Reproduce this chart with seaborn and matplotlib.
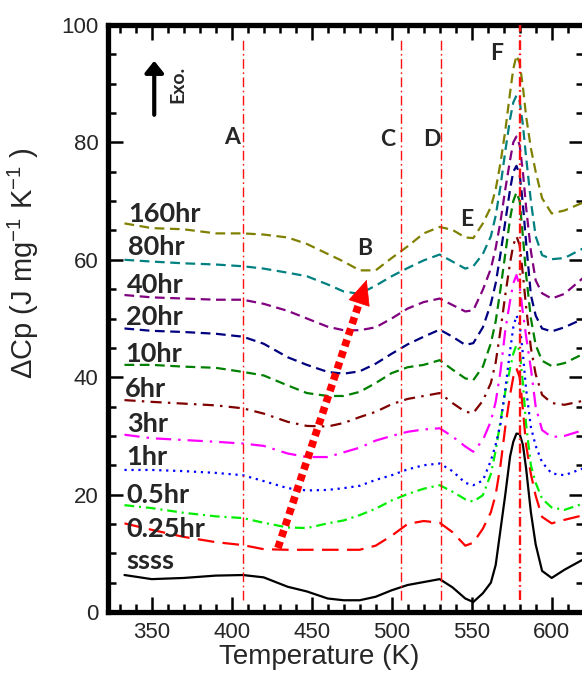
import matplotlib
matplotlib.use("Agg")
import matplotlib.pyplot as plt
import numpy as np
import pandas as pd
import seaborn as sns
from matplotlib.ticker import MultipleLocator

# Temperature grid (K) shared by all DSC traces
temperature = [333, 350, 370, 390, 407, 420, 435, 447, 460, 470, 480, 490, 500, 510,
               520, 530, 538, 546, 551, 557, 562, 565, 568, 571, 574, 576, 578, 580,
               582, 584, 587, 590, 594, 600, 608, 620]

# Heat-flow traces (J mg^-1 K^-1, vertically offset) for each ageing time
ssss = [6.3, 5.6, 5.8, 6.2, 6.3, 5.9, 4.3, 3.5, 2.3, 2.0, 2.0, 2.6, 3.7, 4.6, 5.1, 5.6,
        4.2, 2.3, 1.7, 3.2, 5.0, 8.0, 14.0, 20.0, 26.5, 29.0, 30.4, 30.3, 28.5, 24.5,
        17.0, 11.5, 7.0, 5.8, 7.2, 9.0]
h025 = [15.1, 14.0, 12.8, 11.9, 11.4, 10.7, 10.6, 10.6, 10.6, 10.6, 10.6, 11.3, 13.0, 15.0,
        15.5, 15.2, 13.6, 11.3, 11.8, 14.2, 17.0, 20.0, 25.0, 31.5, 37.0, 40.0, 41.5, 40.0,
        34.5, 28.5, 23.5, 19.8, 16.2, 15.1, 15.7, 16.5]
h05 = [18.2, 17.7, 16.9, 16.3, 16.0, 15.2, 14.4, 14.3, 15.1, 15.6, 16.5, 17.6, 19.0, 20.1,
       21.0, 21.6, 20.5, 19.2, 18.8, 19.9, 23.5, 27.5, 32.5, 37.5, 41.5, 44.0, 45.5, 44.5,
       39.0, 32.0, 25.0, 22.0, 19.3, 17.8, 17.4, 18.5]
h1 = [24.2, 24.2, 24.0, 23.7, 23.3, 22.3, 21.1, 20.7, 20.8, 21.1, 21.5, 22.5, 23.3, 24.3,
      25.0, 25.3, 24.0, 22.0, 21.6, 22.4, 25.8, 28.5, 32.0, 38.0, 44.5, 48.5, 50.5, 49.0,
      44.0, 38.0, 31.5, 28.3, 25.5, 23.6, 23.3, 24.5]
h3 = [30.2, 29.6, 29.3, 29.0, 28.7, 28.3, 27.0, 26.4, 26.4, 27.2, 28.0, 29.2, 30.0, 30.7,
      31.1, 31.3, 29.9, 28.2, 27.3, 29.3, 32.5, 35.8, 41.0, 48.0, 53.0, 56.0, 57.4, 55.5,
      51.0, 47.0, 41.5, 35.0, 31.0, 29.8, 30.0, 31.0]
h6 = [36.1, 35.8, 35.5, 35.2, 34.7, 33.8, 32.4, 31.7, 31.6, 32.2, 33.2, 34.1, 35.4, 36.3,
      36.8, 37.3, 35.6, 34.1, 33.9, 36.0, 39.0, 42.5, 48.0, 54.0, 59.5, 62.5, 64.0, 62.5,
      57.5, 52.0, 45.0, 40.5, 37.0, 35.6, 35.3, 36.0]
h10 = [42.1, 42.1, 41.8, 41.6, 40.9, 40.3, 38.6, 37.3, 36.8, 36.8, 37.5, 39.0, 40.7, 41.7,
       42.1, 42.9, 41.3, 39.8, 39.5, 41.8, 45.8, 49.5, 55.0, 61.0, 67.0, 70.0, 71.5, 70.0,
       64.0, 57.5, 50.0, 45.5, 42.8, 41.9, 42.4, 44.0]
h20 = [48.3, 47.9, 47.7, 47.4, 46.9, 45.7, 43.4, 42.1, 40.9, 40.6, 41.0, 42.3, 44.0, 45.6,
       46.9, 48.1, 46.9, 45.5, 45.8, 48.5, 52.5, 56.0, 61.0, 66.5, 72.0, 75.0, 76.0, 74.5,
       69.5, 63.0, 54.0, 50.5, 48.3, 47.8, 48.5, 50.0]
h40 = [54.0, 53.6, 53.4, 53.2, 53.2, 52.5, 51.3, 50.0, 48.6, 48.0, 48.0, 48.5, 50.0, 51.7,
       52.8, 53.4, 52.3, 51.2, 51.4, 54.9, 58.5, 62.0, 66.5, 72.0, 77.0, 80.0, 81.0, 79.5,
       75.0, 69.0, 61.5, 56.5, 54.3, 53.4, 54.2, 57.0]
h80 = [60.0, 59.7, 59.4, 59.2, 58.9, 58.5, 57.8, 57.2, 55.8, 54.6, 54.2, 55.6, 57.2, 58.6,
       59.9, 60.9, 59.7, 58.5, 58.9, 61.0, 64.0, 67.5, 72.5, 78.5, 84.0, 86.8, 88.0, 87.0,
       83.0, 77.5, 70.0, 64.0, 60.8, 60.1, 60.3, 62.0]
h160 = [66.2, 65.4, 65.2, 64.5, 64.5, 64.3, 63.8, 62.7, 61.0, 59.7, 58.2, 58.2, 60.3, 62.3,
        64.5, 65.6, 65.1, 63.8, 63.7, 66.2, 69.0, 72.0, 76.5, 82.0, 88.5, 92.5, 94.8, 93.5,
        89.5, 84.5, 79.0, 75.0, 70.5, 67.9, 68.4, 69.8]

samples = ["ssss", "0.25hr", "0.5hr", "1hr", "3hr", "6hr", "10hr", "20hr", "40hr", "80hr", "160hr"]
traces = [ssss, h025, h05, h1, h3, h6, h10, h20, h40, h80, h160]

# Text label (baseline) positions next to each trace
label_heights = [7.4, 12.8, 18.6, 25.0, 30.7, 36.7, 42.6, 48.9, 54.3, 60.8, 66.5]
label_temps = [334.4, 334.4, 334.4, 334.4, 334.4, 333.4, 333.4, 334.0, 334.4, 335.2, 335.2]

# Characteristic temperatures marked by vertical lines
event_temps = [407, 506, 531, 580]
event_tops = [97.4, 97.7, 97.7, 100.0]
# Peak / feature letters
letters = ["A", "B", "C", "D", "E", "F"]
letter_x = [400.0, 483.3, 497.3, 525.0, 546.9, 565.6]
letter_y = [79.7, 60.8, 79.4, 79.4, 65.8, 94.0]

# Trend arrow across the B minimum
trend_start = (428.9, 10.9)
trend_base = (480.1, 53.0)
trend_tip = (484.4, 56.6)
# Exothermic direction arrow
exo_start = (351.6, 84.7)
exo_tip = (351.6, 93.9)

colors = {
    "ssss": "#000000", "0.25hr": "#ff0000", "0.5hr": "#00ee00", "1hr": "#0000ff",
    "3hr": "#ff00ff", "6hr": "#800000", "10hr": "#008000", "20hr": "#000080",
    "40hr": "#800080", "80hr": "#008080", "160hr": "#808000",
}
dash_styles = {
    "ssss": "", "0.25hr": (12, 6), "0.5hr": (7, 3.5, 1.5, 3.5), "1hr": (1.6, 3.4),
    "3hr": (11, 5, 1.8, 5), "6hr": (8, 4.5, 1.8, 4.5), "10hr": (7, 4), "20hr": (7, 4),
    "40hr": (7, 4), "80hr": (7, 4), "160hr": (7, 4),
}

sns.set_style("ticks")
plt.rcParams["font.family"] = ["Liberation Sans", "DejaVu Sans"]
plt.rcParams["mathtext.default"] = "regular"
plt.rcParams["lines.scale_dashes"] = False

df = pd.concat(
    [pd.DataFrame({"T": temperature, "dCp": v, "sample": s}) for s, v in zip(samples, traces)],
    ignore_index=True,
)

fig = plt.figure(figsize=(5.82, 6.8), dpi=100)
ax = fig.add_axes([108 / 582, 68 / 680, 476 / 582, 587 / 680])

sns.lineplot(
    data=df, x="T", y="dCp", hue="sample", style="sample",
    palette=colors, dashes=dash_styles, hue_order=samples, style_order=samples,
    linewidth=1.6, legend=False, estimator=None, sort=False, ax=ax, zorder=2,
)
for line in ax.get_lines():
    line.set_solid_joinstyle("round")
    line.set_dash_joinstyle("round")

# Vertical dash-dot markers
for xt, top in zip(event_temps, event_tops):
    lw = 1.7 if top >= 100 else 1.0
    ax.plot([xt, xt], [2.0, top], color="#ff1010", lw=lw, dashes=(7, 2.5, 1.2, 2.5), zorder=3)

for name, lx, ly in zip(samples, label_temps, label_heights):
    ax.text(lx, ly, name, family=["Lato", "DejaVu Sans"], fontweight="bold", fontsize=19.5,
            ha="left", va="baseline", zorder=5)

for ch, lx, ly in zip(letters, letter_x, letter_y):
    ax.text(lx, ly, ch, family=["Lato", "DejaVu Sans"], fontweight="bold", fontsize=16.5,
            ha="center", va="baseline", zorder=5)

# Dotted red trend arrow
ax.plot([trend_start[0], trend_base[0]], [trend_start[1], trend_base[1]], color="red",
        lw=5.5, dashes=(5, 3.5), solid_capstyle="butt", zorder=4)
ax.annotate("", xy=trend_tip, xytext=trend_base,
            arrowprops=dict(arrowstyle="-|>,head_length=0.85,head_width=0.38",
                            mutation_scale=20, fc="red", ec="red", lw=0.5,
                            shrinkA=0, shrinkB=0), zorder=4)

# Exo arrow
ax.annotate("", xy=exo_tip, xytext=exo_start,
            arrowprops=dict(arrowstyle="-|>,head_length=0.35,head_width=0.28",
                            mutation_scale=20, fc="black", ec="black", lw=3,
                            shrinkA=0, shrinkB=0), zorder=4)
ax.text(366.3, 89.8, "Exo.", family=["Lato", "DejaVu Sans"], fontweight="bold",
        fontsize=14, rotation=90, ha="center", va="center")

ax.set_xlim(322.7, 620.2)
ax.set_ylim(0, 100)
ax.xaxis.set_major_locator(MultipleLocator(50))
ax.xaxis.set_minor_locator(MultipleLocator(10))
ax.yaxis.set_major_locator(MultipleLocator(20))
ax.yaxis.set_minor_locator(MultipleLocator(5))
ax.tick_params(which="both", direction="in", top=True, right=True, width=1.8,
               labelsize=16, pad=7, color="black")
ax.tick_params(which="major", length=11)
ax.tick_params(which="minor", length=5.5)
for sp in ax.spines.values():
    sp.set_linewidth(3.8)
    sp.set_color("black")

ax.set_xlabel("Temperature (K)", fontsize=20)
ax.set_ylabel("ΔCp (J mg$^{-1}$ K$^{-1}$ )", fontsize=21)
ax.xaxis.set_label_coords(0.443, -0.054)
ax.xaxis.label.set_va("top")
ax.yaxis.set_label_coords(-0.14, 0.595)

fig.savefig("out.png", dpi=100)
